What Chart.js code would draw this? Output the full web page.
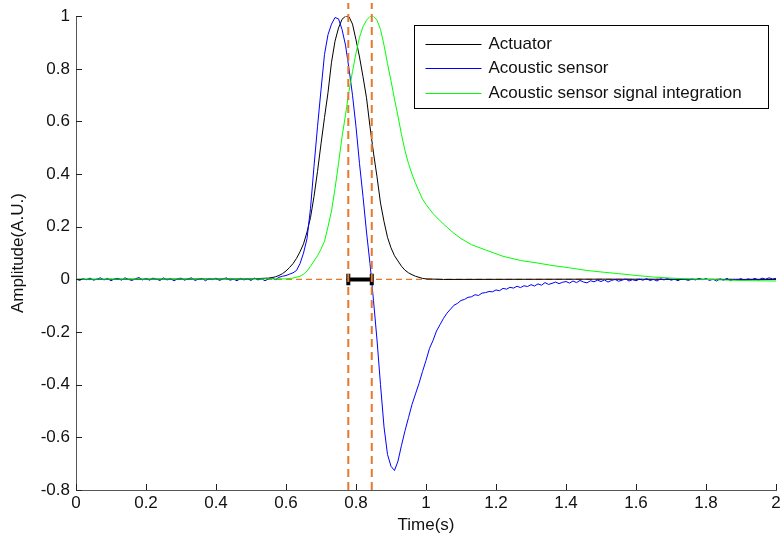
<!DOCTYPE html>
<html><head><meta charset="utf-8">
<script src="https://cdn.jsdelivr.net/npm/chart.js@4.4.1/dist/chart.umd.min.js"></script>
<style>html,body{margin:0;padding:0;background:#fff;}#wrap{width:784px;height:544px;}</style>
</head><body><div id="wrap"><canvas id="c" width="784" height="544"></canvas></div>
<script>
const seriesNames = ['Actuator', 'Acoustic sensor', 'Acoustic sensor signal integration'];
const xTicks = [0, 0.2, 0.4, 0.6, 0.8, 1, 1.2, 1.4, 1.6, 1.8, 2];
const xTickLabels = ['0', '0.2', '0.4', '0.6', '0.8', '1', '1.2', '1.4', '1.6', '1.8', '2'];
const yTicks = [-0.8, -0.6, -0.4, -0.2, 0, 0.2, 0.4, 0.6, 0.8, 1];
const yTickLabels = ['-0.8', '-0.6', '-0.4', '-0.2', '0', '0.2', '0.4', '0.6', '0.8', '1'];

const actuatorTime = [0, 0.50, 0.55, 0.56, 0.57, 0.58, 0.59, 0.60, 0.61, 0.62, 0.63, 0.64, 0.65, 0.66, 0.67, 0.68, 0.69, 0.70, 0.71, 0.72, 0.73, 0.74, 0.75, 0.76, 0.77, 0.78, 0.79, 0.80, 0.81, 0.82, 0.83, 0.84, 0.85, 0.86, 0.87, 0.88, 0.89, 0.90, 0.91, 0.92, 0.93, 0.94, 0.95, 0.96, 0.97, 0.98, 0.99, 1.00, 1.05, 1.50, 2.00];
const actuatorValues = [0, 0.002, 0.005, 0.007, 0.010, 0.015, 0.022, 0.032, 0.045, 0.060, 0.080, 0.105, 0.135, 0.180, 0.235, 0.315, 0.410, 0.515, 0.615, 0.710, 0.825, 0.905, 0.955, 0.988, 1.000, 0.998, 0.970, 0.910, 0.845, 0.770, 0.690, 0.580, 0.480, 0.390, 0.290, 0.220, 0.160, 0.120, 0.090, 0.070, 0.050, 0.035, 0.025, 0.018, 0.012, 0.008, 0.004, 0.002, 0.000, 0.001, 0.000];

// acoustic sensor sampled every 0.01 s from 0 to 2 s
const sensorValues = [
  0.002, -0.004, 0.003, -0.001, 0.005, -0.003, 0.001, 0.006, -0.002, 0.004,
  -0.005, 0.002, 0.004, -0.003, 0.006, 0.000, -0.004, 0.003, 0.007, -0.002,
  0.004, -0.003, 0.005, 0.001, -0.004, 0.006, -0.002, 0.003, -0.005, 0.002,
  0.005, -0.003, 0.002, 0.006, -0.004, 0.001, 0.004, -0.005, 0.003, -0.001,
  0.005, -0.004, 0.002, 0.006, -0.003, 0.001, -0.005, 0.004, -0.002, 0.003,
  -0.004, 0.005, -0.002, 0.003, -0.005, 0.002, 0.006, -0.001, 0.008, 0.012,
  0.015, 0.020, 0.025, 0.034, 0.060, 0.100, 0.155, 0.270, 0.430, 0.580,
  0.720, 0.855, 0.930, 0.970, 0.995, 0.990, 0.950, 0.890, 0.800, 0.700,
  0.580, 0.440, 0.315, 0.180, 0.060, -0.080, -0.230, -0.400, -0.560, -0.665,
  -0.710, -0.726, -0.690, -0.630, -0.575, -0.525, -0.475, -0.435, -0.395, -0.350,
  -0.308, -0.262, -0.232, -0.196, -0.172, -0.148, -0.128, -0.113, -0.098, -0.091,
  -0.080, -0.076, -0.068, -0.066, -0.058, -0.061, -0.052, -0.050, -0.046, -0.047,
  -0.040, -0.043, -0.034, -0.037, -0.030, -0.033, -0.026, -0.031, -0.024, -0.027,
  -0.020, -0.025, -0.017, -0.022, -0.012, -0.019, -0.015, -0.010, -0.016, -0.011,
  -0.008, -0.014, -0.006, -0.012, -0.004, -0.010, -0.013, -0.005, -0.009, -0.003,
  -0.008, -0.002, -0.010, -0.004, 0.000, -0.007, -0.003, 0.002, -0.006, -0.001,
  -0.005, 0.001, -0.003, 0.003, -0.004, 0.000, -0.006, 0.002, -0.002, 0.004,
  -0.003, 0.001, -0.005, 0.003, 0.000, -0.004, 0.002, -0.002, 0.004, -0.001,
  0.003, -0.004, 0.001, -0.006, 0.002, -0.003, 0.004, -0.005, 0.001, -0.002,
  0.003, -0.004, 0.002, -0.001, 0.004, -0.003, 0.005, 0.001, 0.006, 0.002,
  0.004
];
const sensorTime = sensorValues.map((_, i) => i / 100);

const integrationTime = [0, 0.60, 0.62, 0.64, 0.65, 0.66, 0.67, 0.68, 0.69, 0.70, 0.71, 0.72, 0.73, 0.74, 0.75, 0.76, 0.77, 0.78, 0.79, 0.80, 0.81, 0.82, 0.83, 0.84, 0.85, 0.86, 0.87, 0.88, 0.89, 0.90, 0.91, 0.92, 0.93, 0.94, 0.95, 0.96, 0.97, 0.98, 0.99, 1.00, 1.02, 1.05, 1.08, 1.10, 1.13, 1.17, 1.22, 1.27, 1.32, 1.36, 1.41, 1.46, 1.51, 1.55, 1.60, 1.65, 1.70, 1.75, 1.80, 1.85, 1.90, 1.95, 2.00];
const integrationValues = [0.001, 0.002, 0.005, 0.012, 0.020, 0.032, 0.050, 0.070, 0.090, 0.115, 0.145, 0.200, 0.260, 0.345, 0.440, 0.540, 0.625, 0.715, 0.790, 0.860, 0.920, 0.960, 0.985, 0.999, 0.999, 0.985, 0.950, 0.890, 0.820, 0.755, 0.685, 0.620, 0.550, 0.489, 0.440, 0.400, 0.365, 0.335, 0.305, 0.285, 0.250, 0.210, 0.175, 0.155, 0.132, 0.112, 0.088, 0.072, 0.062, 0.053, 0.044, 0.034, 0.027, 0.022, 0.015, 0.009, 0.005, 0.002, 0.000, -0.002, -0.004, -0.005, -0.006];

// peak times marked by the dashed guides and the delay bar
const markerTimes = [0.778, 0.845];
const guideYRange = [-0.8, 1.05];
const capHalf = 0.022;

const pts = (t, v) => t.map((x, i) => ({ x: x, y: v[i] }));
const ORANGE = '#E8782A';
const FONT = "'Liberation Sans', Arial, sans-serif";
Chart.defaults.font.family = FONT;
Chart.defaults.font.size = 17;
Chart.defaults.color = '#111';

const base = { showLine: true, pointRadius: 0, pointHoverRadius: 0, fill: false, tension: 0 };

const datasets = [
  Object.assign({}, base, { label: 'guideH', data: [{ x: xTicks[0], y: 0 }, { x: xTicks[xTicks.length - 1], y: 0 }], borderColor: ORANGE, borderWidth: 1.3, borderDash: [6, 4], order: 9 }),
  Object.assign({}, base, { label: 'guideV1', data: [{ x: markerTimes[0], y: guideYRange[0] }, { x: markerTimes[0], y: guideYRange[1] }], borderColor: ORANGE, borderWidth: 2, borderDash: [8, 5], clip: false, order: 0 }),
  Object.assign({}, base, { label: 'guideV2', data: [{ x: markerTimes[1], y: guideYRange[0] }, { x: markerTimes[1], y: guideYRange[1] }], borderColor: ORANGE, borderWidth: 2, borderDash: [8, 5], clip: false, order: 0 }),
  Object.assign({}, base, { label: 'delay', data: [{ x: markerTimes[0], y: 0 }, { x: markerTimes[1], y: 0 }], borderColor: '#000', borderWidth: 4, order: 1 }),
  Object.assign({}, base, { label: 'cap1', data: [{ x: markerTimes[0], y: -capHalf }, { x: markerTimes[0], y: capHalf }], borderColor: '#000', borderWidth: 4, order: 1 }),
  Object.assign({}, base, { label: 'cap2', data: [{ x: markerTimes[1], y: -capHalf }, { x: markerTimes[1], y: capHalf }], borderColor: '#000', borderWidth: 4, order: 1 }),
  Object.assign({}, base, { label: seriesNames[2], data: pts(integrationTime, integrationValues), borderColor: '#00FF00', borderWidth: 1, order: 2 }),
  Object.assign({}, base, { label: seriesNames[1], data: pts(sensorTime, sensorValues), borderColor: '#0000FF', borderWidth: 1, order: 3 }),
  Object.assign({}, base, { label: seriesNames[0], data: pts(actuatorTime, actuatorValues), borderColor: '#000000', borderWidth: 1, order: 4 })
];

const inwardTicks = {
  id: 'inwardTicks',
  afterDraw(chart) {
    const ctx = chart.ctx, xs = chart.scales.x, ys = chart.scales.y, a = chart.chartArea;
    ctx.save();
    ctx.strokeStyle = '#222';
    ctx.lineWidth = 1;
    ctx.beginPath();
    xTicks.forEach(v => {
      const px = Math.round(xs.getPixelForValue(v)) + 0.5;
      ctx.moveTo(px, a.bottom); ctx.lineTo(px, a.bottom - 6);
    });
    yTicks.forEach(v => {
      const py = Math.round(ys.getPixelForValue(v)) + 0.5;
      ctx.moveTo(a.left, py); ctx.lineTo(a.left + 6, py);
    });
    ctx.stroke();
    ctx.restore();
  }
};

const legendBox = {
  id: 'legendBox',
  afterDraw(chart) {
    const ctx = chart.ctx, a = chart.chartArea;
    const items = seriesNames.map(n => chart.data.datasets.find(d => d.label === n));
    const w = 354, h = 83;
    const x0 = Math.round(a.right - 8 - w) + 0.5, y0 = Math.round(a.top + 9) + 0.5;
    ctx.save();
    ctx.fillStyle = '#fff';
    ctx.fillRect(x0, y0, w, h);
    ctx.strokeStyle = '#000';
    ctx.lineWidth = 1;
    ctx.strokeRect(x0, y0, w, h);
    ctx.font = '17px ' + FONT;
    ctx.textBaseline = 'middle';
    ctx.textAlign = 'left';
    items.forEach((d, i) => {
      const y = Math.round(y0 + 18 + i * 24.5) + 0.5;
      ctx.strokeStyle = d.borderColor;
      ctx.beginPath();
      ctx.moveTo(x0 + 11, y); ctx.lineTo(x0 + 67, y);
      ctx.stroke();
      ctx.fillStyle = '#111';
      ctx.fillText(d.label, x0 + 74, y);
    });
    ctx.restore();
  }
};

new Chart(document.getElementById('c'), {
  type: 'scatter',
  data: { datasets: datasets },
  options: {
    responsive: false,
    devicePixelRatio: 1,
    animation: false,
    events: [],
    layout: { padding: { left: 0, right: 8, top: 15, bottom: 0 } },
    plugins: { legend: { display: false }, tooltip: { enabled: false } },
    scales: {
      x: {
        type: 'linear', min: 0, max: 2,
        afterBuildTicks: s => { s.ticks = xTicks.map(v => ({ value: v })); },
        afterFit: s => { s.height = 54; },
        ticks: { callback: (v, i) => xTickLabels[i], padding: 3, maxRotation: 0, autoSkip: false, color: '#111' },
        grid: { display: false, drawTicks: false },
        border: { display: true, color: '#555', width: 1 },
        title: { display: true, text: 'Time(s)', color: '#111', font: { size: 17 }, padding: { top: 0, bottom: 8 } }
      },
      y: {
        type: 'linear', min: -0.8, max: 1,
        afterBuildTicks: s => { s.ticks = yTicks.map(v => ({ value: v })); },
        afterFit: s => { s.width = 76; },
        ticks: { callback: (v, i) => yTickLabels[i], padding: 6, autoSkip: false, color: '#111' },
        grid: { display: false, drawTicks: false },
        border: { display: true, color: '#555', width: 1 },
        title: { display: true, text: 'Amplitude(A.U.)', color: '#111', font: { size: 17 }, padding: { top: 8, bottom: 0 } }
      }
    }
  },
  plugins: [inwardTicks, legendBox]
});
</script>
</body></html>
